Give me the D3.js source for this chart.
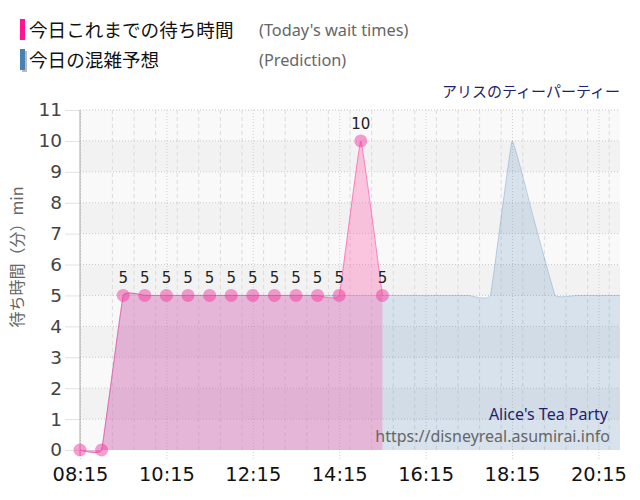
<!DOCTYPE html>
<html><head><meta charset="utf-8">
<script src="https://cdn.jsdelivr.net/npm/d3@7"></script>
<style>
html,body{margin:0;padding:0;background:#fff;}
svg{display:block;}
</style></head>
<body>
<svg id="c" width="640" height="500"></svg>
<script>
// ---- data ----
const actualTimes = ["08:15","08:45","09:15","09:45","10:15","10:45","11:15","11:45","12:15","12:45","13:15","13:45","14:15","14:45","15:15"];
const actualValues = [0,0,5,5,5,5,5,5,5,5,5,5,5,10,5];
const predTimes = ["08:15","08:45","09:15","09:45","10:15","10:45","11:15","11:45","12:15","12:45","13:15","13:45","14:15","14:45","15:15","15:45","16:15","16:45","17:15","17:45","18:15","18:45","19:15","19:45","20:15","20:45"];
const predValues = [0,0,5,5,5,5,5,5,5,5,5,5,5,5,5,5,5,5,5,5,10,7.5,5,5,5,5];
const xTickLabels = ["08:15","10:15","12:15","14:15","16:15","18:15","20:15"];
const yTicks = [0,1,2,3,4,5,6,7,8,9,10,11];
const legendJa = ["今日これまでの待ち時間","今日の混雑予想"];
const legendEn = ["(Today's wait times)","(Prediction)"];
const titleJa = "アリスのティーパーティー";
const titleEn = "Alice's Tea Party";
const siteUrl = "https://disneyreal.asumirai.info";
const yTitle = "待ち時間（分）min";

const parseT = d3.timeParse("%H:%M");
const svg = d3.select("#c");
const L = 80, R = 620, T = 110, B = 450;
const x = d3.scaleTime().domain([parseT("08:15"), parseT("20:45")]).range([L, R]);
const y = d3.scaleLinear().domain([0, 11]).range([B, T]);
const numFont = "'DejaVu Sans', Verdana, sans-serif";
const jaFont = "'Noto Sans CJK JP', 'Noto Sans', sans-serif";

// bands
const bands = d3.range(0, 11);
svg.append("g").selectAll("rect").data(bands).join("rect")
  .attr("x", L).attr("width", R - L)
  .attr("y", d => y(d + 1)).attr("height", d => y(d) - y(d + 1))
  .attr("fill", d => d % 2 === 0 ? "#f9f9f9" : "#f2f2f2");

// vertical grid every 30 min
const minorTimes = d3.timeMinute.every(30).range(parseT("08:45"), parseT("20:46"));
const majorSet = new Set(xTickLabels);
const fmt = d3.timeFormat("%H:%M");
svg.append("g").selectAll("line").data(minorTimes.filter(t => !majorSet.has(fmt(t)))).join("line")
  .attr("x1", d => x(d)).attr("x2", d => x(d)).attr("y1", T).attr("y2", B)
  .attr("stroke", "#dcdcdc").attr("stroke-width", 1).attr("stroke-dasharray", "4,3");

// horizontal grid
svg.append("g").selectAll("line").data(yTicks.filter(v => v > 0)).join("line")
  .attr("x1", L).attr("x2", R).attr("y1", d => y(d)).attr("y2", d => y(d))
  .attr("stroke", "#c8c8c8").attr("stroke-width", 1).attr("stroke-dasharray", "1,2");

// x axis
const xAxis = d3.axisBottom(x).tickValues(xTickLabels.map(parseT)).tickFormat(fmt).tickSize(B - T + 10).tickSizeOuter(0);
const gx = svg.append("g").attr("transform", `translate(0,${T})`).call(xAxis);
gx.select(".domain").remove();
gx.selectAll(".tick line").attr("stroke", "#cfcfcf").attr("stroke-dasharray", "1,2");
gx.selectAll(".tick text").attr("font-family", numFont).attr("font-size", 19.4).attr("fill", "#111").attr("dy", "0.75em").attr("y", B - T + 16);

// y axis
const yAxis = d3.axisLeft(y).tickValues(yTicks).tickSize(15).tickPadding(3).tickSizeOuter(0);
const gy = svg.append("g").attr("transform", `translate(${L},0)`).call(yAxis);
gy.select(".domain").remove();
gy.selectAll(".tick line").attr("stroke", "#e2e2e2");
gy.selectAll(".tick text").attr("font-family", numFont).attr("font-size", 18.5).attr("fill", "#444");
svg.append("line").attr("x1", L).attr("x2", L).attr("y1", T).attr("y2", B + 6).attr("stroke", "#aaa");

// areas
const curve = d3.curveCardinal.tension(0.78);
const pred = predTimes.map((t, i) => ({t: parseT(t), v: predValues[i]}));
const act = actualTimes.map((t, i) => ({t: parseT(t), v: actualValues[i]}));
const area = d3.area().x(d => x(d.t)).y0(y(0)).y1(d => y(d.v)).curve(curve);
const line = d3.line().x(d => x(d.t)).y(d => y(d.v)).curve(curve);

svg.append("path").datum(pred).attr("d", area).attr("fill", "rgba(70,130,180,0.19)");
svg.append("path").datum(pred).attr("d", line).attr("fill", "none").attr("stroke", "rgba(70,130,180,0.3)").attr("stroke-width", 1);
svg.append("path").datum(act).attr("d", area).attr("fill", "rgba(255,105,180,0.36)");
svg.append("path").datum(act).attr("d", line).attr("fill", "none").attr("stroke", "rgba(255,60,160,0.6)").attr("stroke-width", 1);

// points
svg.append("g").selectAll("circle").data(act).join("circle")
  .attr("cx", d => x(d.t)).attr("cy", d => y(d.v)).attr("r", 6.5)
  .attr("fill", "rgba(240,60,160,0.5)");
svg.append("g").selectAll("text").data(act.filter(d => d.v > 0)).join("text")
  .attr("x", d => x(d.t)).attr("y", d => y(d.v) - 12)
  .attr("text-anchor", "middle").attr("font-family", numFont).attr("font-size", 15).attr("fill", "#222")
  .text(d => d.v);

// y title
svg.append("text").attr("transform", "translate(23,257) rotate(-90)")
  .attr("text-anchor", "middle").attr("font-family", jaFont).attr("font-size", 16).attr("fill", "#666")
  .text(yTitle);

// legend
const legColors = ["#ff1493", "#4682b4"];
legendJa.forEach((s, i) => {
  const cy = 30 + i * 30;
  if (i === 1) svg.append("rect").attr("x", 22).attr("y", cy - 9).attr("width", 5).attr("height", 21).attr("fill", "#bbb");
  svg.append("rect").attr("x", 20).attr("y", cy - 11).attr("width", 5).attr("height", 21).attr("fill", legColors[i]);
  svg.append("text").attr("x", 29).attr("y", cy + 7).attr("font-family", jaFont).attr("font-size", 18.6).attr("fill", "#111").text(s);
  svg.append("text").attr("x", 259).attr("y", cy + 6).attr("font-family", "'Noto Sans', sans-serif").attr("font-size", 16.3).attr("fill", "#666").text(legendEn[i]);
});

// title
svg.append("text").attr("x", 620).attr("y", 97).attr("text-anchor", "end")
  .attr("font-family", jaFont).attr("font-size", 15).attr("fill", "#1f1f6e").text(titleJa);

// watermarks
svg.append("text").attr("x", 608).attr("y", 420).attr("text-anchor", "end")
  .attr("font-family", "'Noto Sans', sans-serif").attr("font-size", 16).attr("fill", "#1f1f6e").text(titleEn);
svg.append("text").attr("x", 610).attr("y", 442).attr("text-anchor", "end")
  .attr("font-family", "'Noto Sans', sans-serif").attr("font-size", 16).attr("fill", "#666").text(siteUrl);
</script>
</body></html>
